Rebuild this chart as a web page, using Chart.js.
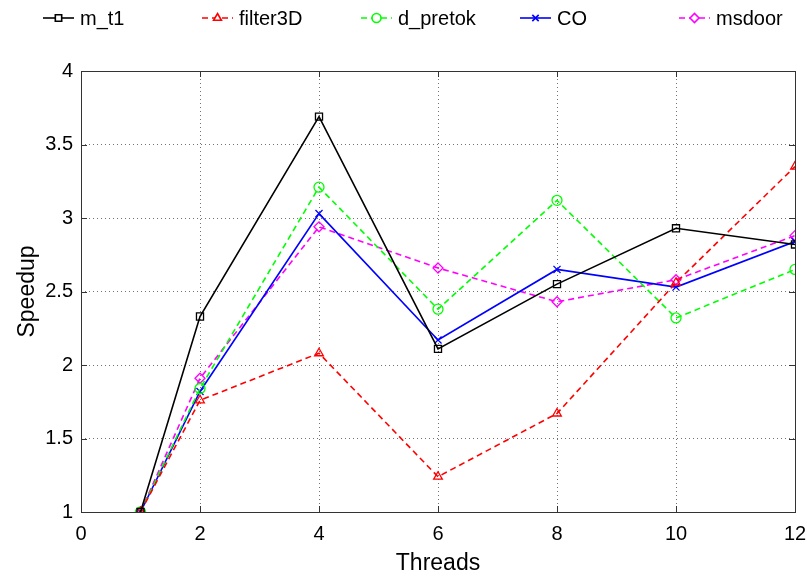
<!DOCTYPE html>
<html>
<head>
<meta charset="utf-8">
<script src="https://cdn.jsdelivr.net/npm/chart.js@4/dist/chart.umd.min.js"></script>
<style>
  html, body { margin: 0; padding: 0; background: #fff; }
  #wrap { width: 807px; height: 577px; }
</style>
</head>
<body>
<div id="wrap"><canvas id="chart" width="807" height="577"></canvas></div>
<script>
// data
const threads = [1, 2, 4, 6, 8, 10, 12];
const m_t1 = [1, 2.33, 3.69, 2.11, 2.55, 2.93, 2.82];
const filter3D = [1, 1.76, 2.08, 1.24, 1.67, 2.56, 3.35];
const d_pretok = [1, 1.84, 3.21, 2.38, 3.12, 2.32, 2.65];
const CO = [1, 1.82, 3.03, 2.17, 2.65, 2.53, 2.84];
const msdoor = [1, 1.91, 2.94, 2.66, 2.43, 2.58, 2.88];
const xTicks = [0, 2, 4, 6, 8, 10, 12];
const yTicks = [1, 1.5, 2, 2.5, 3, 3.5, 4];

const FONT = "'Liberation Sans', Arial, sans-serif";

function pts(vals){ return threads.map((t, i) => ({ x: t, y: vals[i] })); }

function ds(label, vals, color, style, dashed){
  return {
    label,
    data: pts(vals),
    borderColor: color,
    backgroundColor: "rgba(0,0,0,0)",
    borderWidth: 1.6,
    borderDash: dashed ? [6, 4] : [],
    pointStyle: style,
    pointRadius: 5,
    pointBorderColor: color,
    pointBackgroundColor: "rgba(0,0,0,0)",
    pointBorderWidth: 1.3,
    tension: 0
  };
}

// legend in fixed-width columns, like the original
const legendPlugin = {
  id: "colLegend",
  afterDraw(chart){
    const ctx = chart.ctx;
    const y = 18;
    chart.data.datasets.forEach((d, i) => {
      const x0 = 43 + i * 159;
      ctx.save();
      ctx.strokeStyle = d.borderColor;
      ctx.lineWidth = d.borderWidth;
      ctx.setLineDash(d.borderDash);
      ctx.beginPath();
      ctx.moveTo(x0, y);
      ctx.lineTo(x0 + 31, y);
      ctx.stroke();
      ctx.setLineDash([]);
      ctx.fillStyle = "#ffffff";
      Chart.helpers.drawPoint(ctx, {
        pointStyle: d.pointStyle, radius: 4.5, borderWidth: 1.3, rotation: 0
      }, x0 + 15.5, y);
      ctx.fillStyle = "#000";
      ctx.font = "20px " + FONT;
      ctx.textBaseline = "middle";
      ctx.fillText(d.label, x0 + 37, y + 1);
      ctx.restore();
    });
  }
};

// box round the plot and inward tick marks
const boxPlugin = {
  id: "box",
  afterDatasetsDraw(chart){
    const { ctx, chartArea: a, scales } = chart;
    ctx.save();
    ctx.strokeStyle = "#333";
    ctx.lineWidth = 1;
    ctx.strokeRect(a.left + 0.5, a.top + 0.5, a.right - a.left, a.bottom - a.top);
    ctx.beginPath();
    xTicks.forEach(v => {
      const px = Math.round(scales.x.getPixelForValue(v)) + 0.5;
      ctx.moveTo(px, a.bottom); ctx.lineTo(px, a.bottom - 6);
      ctx.moveTo(px, a.top); ctx.lineTo(px, a.top + 6);
    });
    yTicks.forEach(v => {
      const py = Math.round(scales.y.getPixelForValue(v)) + 0.5;
      ctx.moveTo(a.left, py); ctx.lineTo(a.left + 6, py);
      ctx.moveTo(a.right, py); ctx.lineTo(a.right - 6, py);
    });
    ctx.stroke();
    ctx.restore();
  }
};

const gridStyle = {
  color: "rgba(0,0,0,0.55)",
  lineWidth: 1,
  drawTicks: false
};

new Chart(document.getElementById("chart"), {
  type: "line",
  data: {
    datasets: [
      ds("m_t1", m_t1, "#000000", "rect", false),
      ds("filter3D", filter3D, "#ff0000", "triangle", true),
      ds("d_pretok", d_pretok, "#00ff00", "circle", true),
      ds("CO", CO, "#0000ff", "crossRot", false),
      ds("msdoor", msdoor, "#ff00ff", "rectRot", true)
    ]
  },
  options: {
    responsive: false,
    animation: false,
    layout: { padding: { top: 71, right: 0, bottom: 0, left: 0 } },
    plugins: { legend: { display: false }, tooltip: { enabled: false } },
    scales: {
      x: {
        type: "linear",
        min: 0, max: 12,
        afterBuildTicks(scale){ scale.ticks = xTicks.map(v => ({ value: v })); },
        afterFit(scale){ scale.height = 65; scale.paddingRight = 12; scale.paddingLeft = 0; },
        grid: gridStyle,
        border: { display: false, dash: [1, 3] },
        ticks: { color: "#000", padding: 10, font: { size: 20, family: FONT }, maxRotation: 0,
                 callback: v => String(v) },
        title: { display: true, text: "Threads", color: "#000", font: { size: 23, family: FONT }, padding: 0 }
      },
      y: {
        type: "linear",
        min: 1, max: 4,
        afterBuildTicks(scale){ scale.ticks = yTicks.map(v => ({ value: v })); },
        afterFit(scale){ scale.width = 81; },
        grid: gridStyle,
        border: { display: false, dash: [1, 3] },
        ticks: { color: "#000", padding: 8, font: { size: 20, family: FONT },
                 callback: v => String(v) },
        title: { display: true, text: "Speedup", color: "#000", font: { size: 23, family: FONT }, padding: { top: 14, bottom: 0 } }
      }
    }
  },
  plugins: [legendPlugin, boxPlugin]
});
</script>
</body>
</html>
